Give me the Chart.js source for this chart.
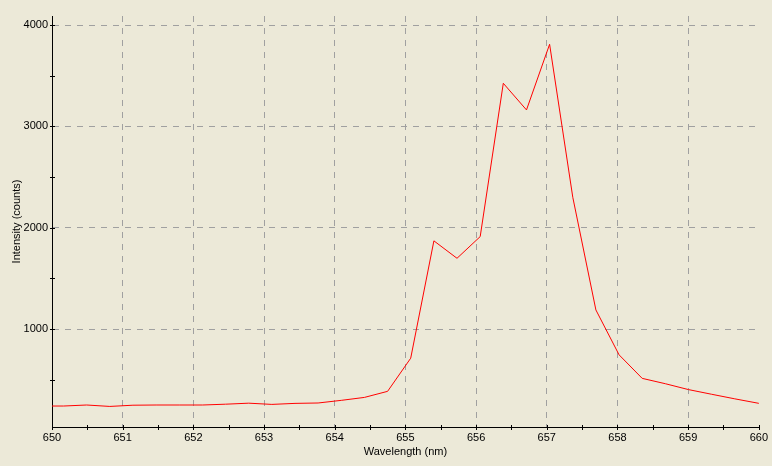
<!DOCTYPE html>
<html>
<head>
<meta charset="utf-8">
<script src="https://cdn.jsdelivr.net/npm/chart.js@4/dist/chart.umd.min.js"></script>
<style>
  html, body { margin: 0; padding: 0; background: #ECE9D8; }
  #c { display: block; }
</style>
</head>
<body>
<canvas id="c" width="772" height="466"></canvas>
<script>
// Wavelength samples (nm)
const wavelengths = [
  649.835, 650.163, 650.490, 650.818, 651.145, 651.473, 651.800, 652.128,
  652.455, 652.783, 653.110, 653.438, 653.765, 654.093, 654.420, 654.748,
  655.075, 655.403, 655.730, 656.058, 656.385, 656.713, 657.040, 657.368,
  657.695, 658.023, 658.350, 658.678, 659.005, 659.333, 659.660, 659.988,
  660.315
];
// Intensity (counts)
const intensities = [
  240, 240, 250, 236, 248, 250, 250, 250,
  258, 268, 256, 266, 270, 296, 325, 385,
  712, 1870, 1698, 1912, 3425, 3162, 3810, 2300,
  1188, 745, 513, 460, 402, 356, 311, 268,
  225
];
// Tick values
const xTicks = [650, 650.5, 651, 651.5, 652, 652.5, 653, 653.5, 654, 654.5, 655, 655.5, 656, 656.5, 657, 657.5, 658, 658.5, 659, 659.5, 660];
const xLabelTicks = [650, 651, 652, 653, 654, 655, 656, 657, 658, 659, 660];
const yTicks = [500, 1000, 1500, 2000, 2500, 3000, 3500, 4000];
const yLabelTicks = [1000, 2000, 3000, 4000];

const FONT = { family: '"Liberation Sans", Arial, sans-serif', size: 11 };
const GRID = '#a0a0a0';

const crossTicks = {
  id: 'crossTicks',
  beforeDraw(chart) {
    const ctx = chart.ctx;
    ctx.save();
    ctx.fillStyle = '#ECE9D8';
    ctx.fillRect(0, 0, chart.width, chart.height);
    ctx.restore();
  },
  afterDraw(chart) {
    const ctx = chart.ctx;
    const xs = chart.scales.x, ys = chart.scales.y;
    const area = chart.chartArea;
    ctx.save();
    ctx.strokeStyle = '#000';
    ctx.lineWidth = 1;
    ctx.beginPath();
    xs.ticks.forEach(t => {
      const px = Math.round(xs.getPixelForValue(t.value)) + 0.5;
      ctx.moveTo(px, area.bottom - 2);
      ctx.lineTo(px, area.bottom + 3);
    });
    ys.ticks.forEach(t => {
      const py = Math.round(ys.getPixelForValue(t.value)) + 0.5;
      ctx.moveTo(area.left - 2, py);
      ctx.lineTo(area.left + 3, py);
    });
    ctx.stroke();
    ctx.restore();
  }
};

const points = wavelengths.map((w, i) => ({ x: w, y: intensities[i] }));

new Chart(document.getElementById('c'), {
  type: 'line',
  data: {
    datasets: [{
      data: points,
      borderColor: '#ff0000',
      borderWidth: 1,
      pointRadius: 0,
      tension: 0,
      fill: false
    }]
  },
  options: {
    responsive: false,
    animation: false,
    events: [],
    layout: { padding: { top: 16, right: 11, left: 0, bottom: 0 } },
    plugins: { legend: { display: false }, tooltip: { enabled: false } },
    scales: {
      x: {
        type: 'linear',
        min: 650,
        max: 660,
        afterBuildTicks: s => { s.ticks = xTicks.map(v => ({ value: v })); },
        afterFit: s => { s.height = 39; },
        ticks: {
          autoSkip: false,
          maxRotation: 0,
          padding: 4,
          color: '#000',
          font: FONT,
          callback: v => xLabelTicks.includes(v) ? String(v) : ''
        },
        grid: {
          drawTicks: false,
          lineWidth: 1,
          color: c => (c.tick && Number.isInteger(c.tick.value) && c.tick.value > 650 && c.tick.value < 660) ? GRID : 'rgba(0,0,0,0)'
        },
        border: { display: true, color: '#000', width: 1, dash: [6, 6] },
        title: { display: true, text: 'Wavelength (nm)', color: '#000', font: FONT, padding: { top: 0, bottom: 7 } }
      },
      y: {
        type: 'linear',
        min: 33,
        max: 4089,
        afterBuildTicks: s => { s.ticks = yTicks.map(v => ({ value: v })); },
        afterFit: s => { s.width = 52; },
        ticks: {
          autoSkip: false,
          padding: 4,
          color: '#000',
          font: FONT,
          callback: v => yLabelTicks.includes(v) ? String(v) : ''
        },
        grid: {
          drawTicks: false,
          lineWidth: 1,
          color: c => (c.tick && c.tick.value % 1000 === 0) ? GRID : 'rgba(0,0,0,0)'
        },
        border: { display: true, color: '#000', width: 1, dash: [6, 6] },
        title: { display: true, text: 'Intensity (counts)', color: '#000', font: FONT, padding: { top: 10.7, bottom: 0 } }
      }
    }
  },
  plugins: [crossTicks]
});
</script>
</body>
</html>
